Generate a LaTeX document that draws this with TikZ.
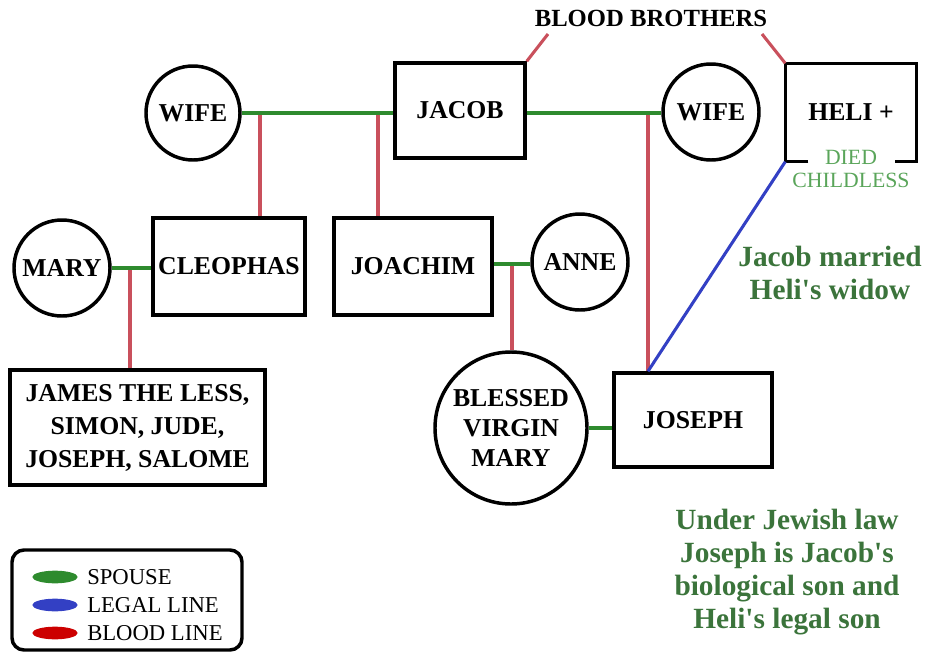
\documentclass[tikz,border=0pt]{standalone}
\usepackage{fontspec}
\setmainfont{Liberation Serif}
\usetikzlibrary{shapes.geometric}
\definecolor{spousegreen}{HTML}{2E8B2E}
\definecolor{bloodred}{HTML}{C9505C}
\definecolor{legalblue}{HTML}{3340C4}
\definecolor{notegreen}{HTML}{3B743B}
\definecolor{lightgreen}{HTML}{5AA55A}
\tikzset{
  x=0.75pt, y=-0.75pt,
  person/.style={draw=black, line width=2.6pt, inner sep=0pt, align=center,
    font=\fontsize{19.3}{22}\selectfont\bfseries},
  man/.style={person, rectangle},
  woman/.style={person, circle},
  spouse/.style={draw=spousegreen, line width=2.6pt},
  blood/.style={draw=bloodred, line width=2.3pt},
  legal/.style={draw=legalblue, line width=2.3pt},
  note/.style={text=notegreen, align=center, font=\fontsize{22}{24.75}\selectfont\bfseries},
  legtext/.style={anchor=west, inner sep=0pt, font=\fontsize{17}{18}\selectfont},
  legmark/.style={ellipse, minimum width=34pt, minimum height=9.5pt, inner sep=0pt},
}
\begin{document}
\begin{tikzpicture}
\useasboundingbox (0,0) rectangle (933,661);
% people
\node[woman, minimum size=70.5pt] (wifeL) at (193,113) {WIFE};
\node[man, minimum width=97.5pt, minimum height=71.25pt] (jacob) at (460,110.5) {JACOB};
\node[woman, minimum size=72pt] (wifeR) at (711,112) {WIFE};
\node[person, draw=none, minimum width=96pt, minimum height=71.25pt] (heli) at (851,112.5) {HELI +};
\draw[line width=2.6pt, line join=miter] ([xshift=17.25pt]heli.south west) -- (heli.south west) -- (heli.north west) -- (heli.north east) -- (heli.south east) -- ([xshift=-16.5pt]heli.south east);
\node[text=lightgreen, align=center, inner sep=0pt, font=\fontsize{16.3}{17.25}\selectfont] (died) at (851,168.5) {DIED\\CHILDLESS};
\node[woman, minimum size=72pt] (mary) at (62,268) {MARY};
\node[man, minimum width=114pt, minimum height=72.75pt] (cleophas) at (229,266.5) {CLEOPHAS};
\node[man, minimum width=118.5pt, minimum height=72.75pt] (joachim) at (413,266.5) {JOACHIM};
\node[woman, minimum size=72pt] (anne) at (580,262) {ANNE};
\node[man, minimum width=191.25pt, minimum height=86.25pt, font=\fontsize{19.3}{24.75}\selectfont\bfseries] (james) at (137.5,427.5) {JAMES THE LESS,\\SIMON, JUDE,\\JOSEPH, SALOME};
\node[woman, minimum size=114pt, font=\fontsize{19.3}{22.5}\selectfont\bfseries] (bvm) at (511,428) {BLESSED\\VIRGIN\\MARY};
\node[man, minimum width=118.5pt, minimum height=70.5pt] (joseph) at (693,420) {JOSEPH};
% blood brothers label
\node[font=\fontsize{18.5}{20}\selectfont\bfseries, inner sep=0pt] (bb) at (651,18) {BLOOD BROTHERS};
\coordinate (bbL) at (548,34);
\coordinate (bbR) at (762,34);
\draw[blood] (jacob.north east) -- (bbL);
\draw[blood] (heli.north west) -- (bbR);
% drop points
\coordinate (d1) at (260,113);
\coordinate (d2) at (378,113);
\coordinate (d3) at (648,113);
\coordinate (d4) at (130,268);
\coordinate (d5) at (512,264);
% blood lines (drawn first so green lies on top)
\draw[blood] (d1) -- (d1 |- cleophas.north);
\draw[blood] (d2) -- (d2 |- joachim.north);
\draw[blood] (d3) -- (d3 |- joseph.north);
\draw[blood] (d4) -- (d4 |- james.north);
\draw[blood] (d5) -- (d5 |- bvm.north);
% spouse lines
\draw[spouse] (wifeL.east) -- (wifeL.east -| jacob.west);
\draw[spouse] (jacob.east |- d3) -- (wifeR.west |- d3);
\draw[spouse] (mary.east) -- (mary.east -| cleophas.west);
\draw[spouse] (joachim.east |- d5) -- (anne.west |- d5);
\draw[spouse] (bvm.east) -- (bvm.east -| joseph.west);
% legal line
\draw[legal] (heli.south west) -- (d3 |- joseph.north);
% notes
\node[note] (n1) at (830,273) {Jacob married\\Heli\textquotesingle s widow};
\node[note] (n2) at (787,572) {Under Jewish law\\Joseph is Jacob\textquotesingle s\\biological son and\\Heli\textquotesingle s legal son};
% legend
\node[draw=black, line width=2.6pt, rounded corners=9pt, minimum width=172.5pt, minimum height=75pt, inner sep=0pt] (legend) at (127,600) {};
\node[legmark, fill=spousegreen] (lg) at (55,577) {};
\node[legmark, fill=legalblue] (lb) at (55,605) {};
\node[legmark, fill=red!80!black] (lr) at (55,633) {};
\node[legtext] (tg) at (87,577) {SPOUSE};
\node[legtext] (tb) at (87,605) {LEGAL LINE};
\node[legtext] (tr) at (87,633) {BLOOD LINE};
\end{tikzpicture}
\end{document}
